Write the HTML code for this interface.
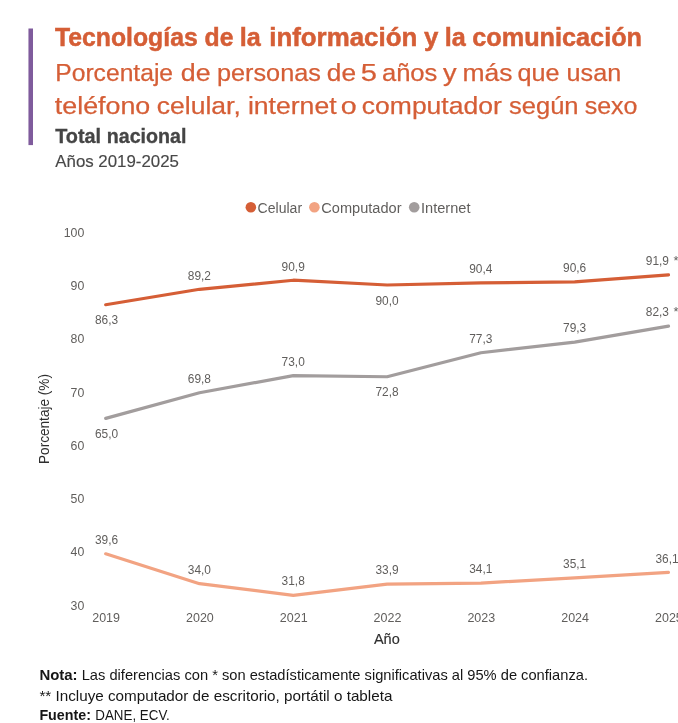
<!DOCTYPE html>
<html lang="es"><head><meta charset="utf-8"><title>Tecnologías de la información y la comunicación</title>
<style>html,body{margin:0;padding:0;background:#fff;overflow:hidden}svg{display:block}text{font-family:"Liberation Sans",sans-serif}</style></head><body>
<svg width="678" height="723" viewBox="0 0 678 723">
<rect width="678" height="723" fill="#ffffff"/>
<rect x="28.45" y="28.5" width="4.55" height="116.6" fill="#7F5B9C"/>
<text y="45.7" font-size="25.5" fill="#D55E36" stroke="#D55E36" stroke-width="0.5" font-weight="bold"><tspan x="54.93" textLength="142.78" lengthAdjust="spacingAndGlyphs">Tecnologías</tspan> <tspan x="204.59" textLength="28.86" lengthAdjust="spacingAndGlyphs">de</tspan> <tspan x="239.74" textLength="21.00" lengthAdjust="spacingAndGlyphs">la</tspan> <tspan x="269.19" textLength="148.11" lengthAdjust="spacingAndGlyphs">información</tspan> <tspan x="424.00" textLength="14.34" lengthAdjust="spacingAndGlyphs">y</tspan> <tspan x="444.84" textLength="21.00" lengthAdjust="spacingAndGlyphs">la</tspan> <tspan x="472.21" textLength="169.85" lengthAdjust="spacingAndGlyphs">comunicación</tspan></text>
<text y="80.7" font-size="24.8" fill="#D55E36" stroke="#D55E36" stroke-width="0.25"><tspan x="55.28" textLength="117.82" lengthAdjust="spacingAndGlyphs">Porcentaje</tspan> <tspan x="180.87" textLength="29.82" lengthAdjust="spacingAndGlyphs">de</tspan> <tspan x="216.97" textLength="103.94" lengthAdjust="spacingAndGlyphs">personas</tspan> <tspan x="326.89" textLength="29.27" lengthAdjust="spacingAndGlyphs">de</tspan> <tspan x="360.83" textLength="16.19" lengthAdjust="spacingAndGlyphs">5</tspan> <tspan x="381.91" textLength="55.51" lengthAdjust="spacingAndGlyphs">años</tspan> <tspan x="442.93" textLength="13.62" lengthAdjust="spacingAndGlyphs">y</tspan> <tspan x="462.44" textLength="50.01" lengthAdjust="spacingAndGlyphs">más</tspan> <tspan x="517.64" textLength="41.97" lengthAdjust="spacingAndGlyphs">que</tspan> <tspan x="566.57" textLength="54.57" lengthAdjust="spacingAndGlyphs">usan</tspan></text>
<text y="113.8" font-size="24.8" fill="#D55E36" stroke="#D55E36" stroke-width="0.25"><tspan x="54.79" textLength="95.53" lengthAdjust="spacingAndGlyphs">teléfono</tspan> <tspan x="156.79" textLength="84.05" lengthAdjust="spacingAndGlyphs">celular,</tspan> <tspan x="247.92" textLength="88.67" lengthAdjust="spacingAndGlyphs">internet</tspan> <tspan x="340.80" textLength="15.90" lengthAdjust="spacingAndGlyphs">o</tspan> <tspan x="361.87" textLength="139.86" lengthAdjust="spacingAndGlyphs">computador</tspan> <tspan x="508.99" textLength="69.57" lengthAdjust="spacingAndGlyphs">según</tspan> <tspan x="584.70" textLength="52.85" lengthAdjust="spacingAndGlyphs">sexo</tspan></text>
<text y="143.1" font-size="19.5" fill="#454545" stroke="#454545" stroke-width="0.3" font-weight="bold"><tspan x="55.18" textLength="45.98" lengthAdjust="spacingAndGlyphs">Total</tspan> <tspan x="106.71" textLength="79.69" lengthAdjust="spacingAndGlyphs">nacional</tspan></text>
<text y="167.1" font-size="17.2" fill="#484848" stroke="#484848" stroke-width="0.15"><tspan x="55.37" textLength="38.44" lengthAdjust="spacingAndGlyphs">Años</tspan> <tspan x="98.25" textLength="80.66" lengthAdjust="spacingAndGlyphs">2019-2025</tspan></text>
<circle cx="250.85" cy="207.3" r="5.3" fill="#D55E36"/>
<circle cx="314.4" cy="207.3" r="5.3" fill="#F2A382"/>
<circle cx="414.2" cy="207.3" r="5.3" fill="#A29D9D"/>
<text x="257.60" y="212.60" font-size="14.0" fill="#605E5C" textLength="44.50" lengthAdjust="spacingAndGlyphs">Celular</text>
<text x="321.30" y="212.60" font-size="14.0" fill="#605E5C" textLength="80.20" lengthAdjust="spacingAndGlyphs">Computador</text>
<text x="421.00" y="212.60" font-size="14.0" fill="#605E5C" textLength="49.50" lengthAdjust="spacingAndGlyphs">Internet</text>
<text x="84.30" y="610.10" font-size="12.8" fill="#605E5C" text-anchor="end" textLength="13.70" lengthAdjust="spacingAndGlyphs">30</text>
<text x="84.30" y="556.10" font-size="12.8" fill="#605E5C" text-anchor="end" textLength="13.70" lengthAdjust="spacingAndGlyphs">40</text>
<text x="84.30" y="503.10" font-size="12.8" fill="#605E5C" text-anchor="end" textLength="13.70" lengthAdjust="spacingAndGlyphs">50</text>
<text x="84.30" y="450.10" font-size="12.8" fill="#605E5C" text-anchor="end" textLength="13.70" lengthAdjust="spacingAndGlyphs">60</text>
<text x="84.30" y="397.10" font-size="12.8" fill="#605E5C" text-anchor="end" textLength="13.70" lengthAdjust="spacingAndGlyphs">70</text>
<text x="84.30" y="343.10" font-size="12.8" fill="#605E5C" text-anchor="end" textLength="13.70" lengthAdjust="spacingAndGlyphs">80</text>
<text x="84.30" y="290.10" font-size="12.8" fill="#605E5C" text-anchor="end" textLength="13.70" lengthAdjust="spacingAndGlyphs">90</text>
<text x="84.30" y="237.10" font-size="12.8" fill="#605E5C" text-anchor="end" textLength="20.60" lengthAdjust="spacingAndGlyphs">100</text>
<text x="106.10" y="622.40" font-size="12.8" fill="#605E5C" text-anchor="middle" textLength="27.80" lengthAdjust="spacingAndGlyphs">2019</text>
<text x="199.90" y="622.40" font-size="12.8" fill="#605E5C" text-anchor="middle" textLength="27.80" lengthAdjust="spacingAndGlyphs">2020</text>
<text x="293.70" y="622.40" font-size="12.8" fill="#605E5C" text-anchor="middle" textLength="27.80" lengthAdjust="spacingAndGlyphs">2021</text>
<text x="387.50" y="622.40" font-size="12.8" fill="#605E5C" text-anchor="middle" textLength="27.80" lengthAdjust="spacingAndGlyphs">2022</text>
<text x="481.30" y="622.40" font-size="12.8" fill="#605E5C" text-anchor="middle" textLength="27.80" lengthAdjust="spacingAndGlyphs">2023</text>
<text x="575.10" y="622.40" font-size="12.8" fill="#605E5C" text-anchor="middle" textLength="27.80" lengthAdjust="spacingAndGlyphs">2024</text>
<text x="668.90" y="622.40" font-size="12.8" fill="#605E5C" text-anchor="middle" textLength="27.80" lengthAdjust="spacingAndGlyphs">2025</text>
<text transform="translate(49.0,419.0) rotate(-90)" text-anchor="middle" font-size="13.9" fill="#2e2e2e" textLength="90" lengthAdjust="spacingAndGlyphs">Porcentaje (%)</text>
<text x="386.80" y="643.50" font-size="14.5" fill="#2e2e2e" text-anchor="middle" stroke="#2e2e2e" stroke-width="0.15">Año</text>
<polyline points="105.70,553.80 199.50,583.67 293.30,595.40 387.10,584.20 480.90,583.13 574.70,577.80 668.50,572.47" fill="none" stroke="#F2A382" stroke-width="3.2" stroke-linecap="round" stroke-linejoin="round"/>
<polyline points="105.70,418.35 199.50,392.75 293.30,375.68 387.10,376.75 480.90,352.75 574.70,342.08 668.50,326.08" fill="none" stroke="#A29D9D" stroke-width="3.2" stroke-linecap="round" stroke-linejoin="round"/>
<polyline points="105.70,304.75 199.50,289.29 293.30,280.22 387.10,285.02 480.90,282.89 574.70,281.82 668.50,274.89" fill="none" stroke="#D55E36" stroke-width="3.2" stroke-linecap="round" stroke-linejoin="round"/>
<text x="106.50" y="324.10" font-size="12.8" fill="#605E5C" text-anchor="middle" textLength="23.20" lengthAdjust="spacingAndGlyphs">86,3</text>
<text x="199.40" y="280.10" font-size="12.8" fill="#605E5C" text-anchor="middle" textLength="23.20" lengthAdjust="spacingAndGlyphs">89,2</text>
<text x="293.20" y="271.10" font-size="12.8" fill="#605E5C" text-anchor="middle" textLength="23.20" lengthAdjust="spacingAndGlyphs">90,9</text>
<text x="387.00" y="305.10" font-size="12.8" fill="#605E5C" text-anchor="middle" textLength="23.20" lengthAdjust="spacingAndGlyphs">90,0</text>
<text x="480.80" y="273.10" font-size="12.8" fill="#605E5C" text-anchor="middle" textLength="23.20" lengthAdjust="spacingAndGlyphs">90,4</text>
<text x="574.60" y="272.10" font-size="12.8" fill="#605E5C" text-anchor="middle" textLength="23.20" lengthAdjust="spacingAndGlyphs">90,6</text>
<text x="645.80" y="265.10" font-size="12.8" fill="#605E5C" textLength="23.20" lengthAdjust="spacingAndGlyphs">91,9</text>
<text x="673.60" y="265.10" font-size="12.8" fill="#605E5C">*</text>
<text x="106.50" y="438.10" font-size="12.8" fill="#605E5C" text-anchor="middle" textLength="23.20" lengthAdjust="spacingAndGlyphs">65,0</text>
<text x="199.40" y="383.10" font-size="12.8" fill="#605E5C" text-anchor="middle" textLength="23.20" lengthAdjust="spacingAndGlyphs">69,8</text>
<text x="293.20" y="366.10" font-size="12.8" fill="#605E5C" text-anchor="middle" textLength="23.20" lengthAdjust="spacingAndGlyphs">73,0</text>
<text x="387.00" y="396.10" font-size="12.8" fill="#605E5C" text-anchor="middle" textLength="23.20" lengthAdjust="spacingAndGlyphs">72,8</text>
<text x="480.80" y="343.10" font-size="12.8" fill="#605E5C" text-anchor="middle" textLength="23.20" lengthAdjust="spacingAndGlyphs">77,3</text>
<text x="574.60" y="332.10" font-size="12.8" fill="#605E5C" text-anchor="middle" textLength="23.20" lengthAdjust="spacingAndGlyphs">79,3</text>
<text x="645.80" y="316.10" font-size="12.8" fill="#605E5C" textLength="23.20" lengthAdjust="spacingAndGlyphs">82,3</text>
<text x="673.60" y="316.10" font-size="12.8" fill="#605E5C">*</text>
<text x="106.50" y="544.10" font-size="12.8" fill="#605E5C" text-anchor="middle" textLength="23.20" lengthAdjust="spacingAndGlyphs">39,6</text>
<text x="199.40" y="574.10" font-size="12.8" fill="#605E5C" text-anchor="middle" textLength="23.20" lengthAdjust="spacingAndGlyphs">34,0</text>
<text x="293.20" y="585.10" font-size="12.8" fill="#605E5C" text-anchor="middle" textLength="23.20" lengthAdjust="spacingAndGlyphs">31,8</text>
<text x="387.00" y="574.10" font-size="12.8" fill="#605E5C" text-anchor="middle" textLength="23.20" lengthAdjust="spacingAndGlyphs">33,9</text>
<text x="480.80" y="573.10" font-size="12.8" fill="#605E5C" text-anchor="middle" textLength="23.20" lengthAdjust="spacingAndGlyphs">34,1</text>
<text x="574.60" y="568.10" font-size="12.8" fill="#605E5C" text-anchor="middle" textLength="23.20" lengthAdjust="spacingAndGlyphs">35,1</text>
<text x="655.40" y="563.10" font-size="12.8" fill="#605E5C" textLength="23.20" lengthAdjust="spacingAndGlyphs">36,1</text>
<text x="39.40" y="680.40" font-size="15.0" fill="#161616" font-weight="bold" textLength="38.20" lengthAdjust="spacingAndGlyphs">Nota:</text>
<text x="81.70" y="680.40" font-size="15.0" fill="#161616" textLength="506.30" lengthAdjust="spacingAndGlyphs">Las diferencias con * son estadísticamente significativas al 95% de confianza.</text>
<text x="39.40" y="700.90" font-size="15.0" fill="#161616" textLength="353.00" lengthAdjust="spacingAndGlyphs">** Incluye computador de escritorio, portátil o tableta</text>
<text x="39.40" y="720.40" font-size="15.0" fill="#161616" font-weight="bold" textLength="51.60" lengthAdjust="spacingAndGlyphs">Fuente:</text>
<text x="95.30" y="720.40" font-size="15.0" fill="#161616" textLength="74.50" lengthAdjust="spacingAndGlyphs">DANE, ECV.</text>
</svg></body></html>
